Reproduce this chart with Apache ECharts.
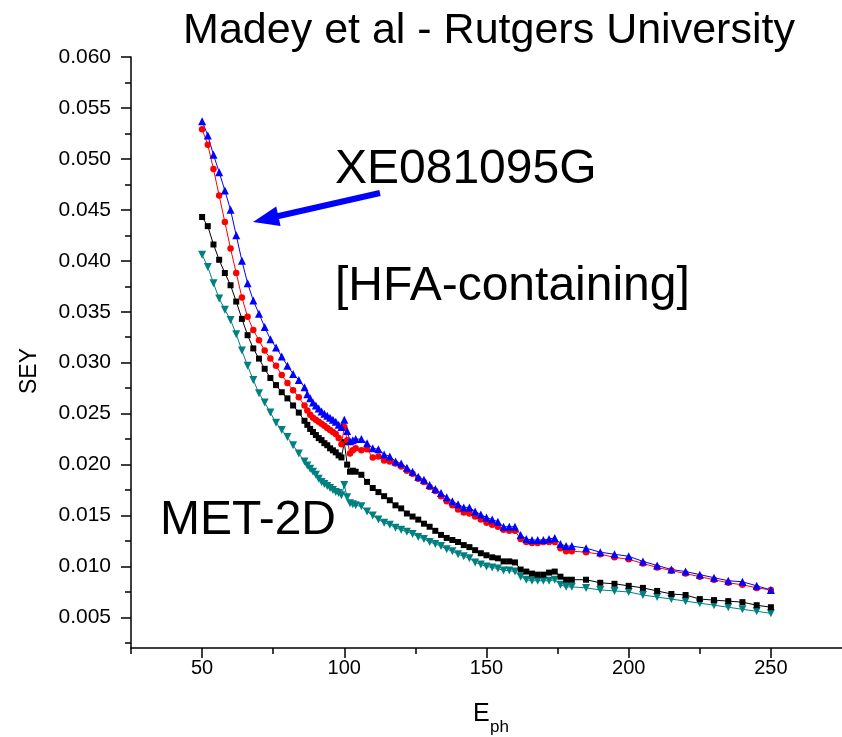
<!DOCTYPE html>
<html>
<head>
<meta charset="utf-8">
<script src="https://cdn.jsdelivr.net/npm/echarts@6/dist/echarts.min.js"></script>
<style>
html,body{margin:0;padding:0;background:#ffffff;}
#c{width:842px;height:737px;}
</style>
</head>
<body>
<div id="c"></div>
<script>
// Photon energy (eV)
const ePh = [
  50,52,54,56,58,60,62,64,66,68,70,72,74,76,78,80,82,84,86,
  87,88,89,90,91,92,93,94,95,96,97,98,99,100,101,102,103,104,
  106,108,110,112,114,116,118,120,122,124,
  126,128,130,132,134,136,138,140,142,144,
  146,148,150,152,154,156,158,160,162,164,
  166,168,170,172,174,176,178,180,
  185,190,195,200,205,210,215,220,225,230,235,240,245,250
];
// SEY values, blue triangles (XE081095G)
const seyBlue = [
  0.0537,0.0523,0.0504,0.0487,0.0469,0.0450,0.0425,0.0400,0.0378,0.0361,0.0348,0.0335,0.0323,0.0315,0.0306,0.0297,0.0289,0.0283,0.0276,
  0.0269,0.0265,0.0261,0.0258,0.0255,0.0252,0.0250,0.0248,0.0246,0.0244,0.0242,0.0239,0.0237,0.0244,0.0233,0.0223,0.0224,0.0225,
  0.0225,0.0221,0.0216,0.0215,0.0210,0.0208,0.0203,0.0201,0.0197,0.0193,
  0.0188,0.0185,0.0180,0.0176,0.0172,0.0168,0.0164,0.0161,0.0158,0.0158,
  0.0154,0.0151,0.0148,0.0146,0.0144,0.0139,0.0139,0.0139,0.0131,0.0127,
  0.0126,0.0126,0.0126,0.0127,0.0128,0.0122,0.0120,0.0120,
  0.0118,0.0114,0.0112,0.0110,0.0105,0.0101,0.0097,0.0095,0.0092,0.0089,0.0086,0.0085,0.0081,0.0077
];
// SEY values, red circles
const seyRed = [
  0.0529,0.0514,0.0490,0.0464,0.0438,0.0412,0.0388,0.0364,0.0345,0.0332,0.0322,0.0312,0.0304,0.0297,0.0288,0.0280,0.0273,0.0266,0.0258,
  0.0253,0.0249,0.0246,0.0244,0.0242,0.0240,0.0238,0.0236,0.0234,0.0232,0.0230,0.0226,0.0220,0.0237,0.0224,0.0211,0.0214,0.0216,
  0.0214,0.0215,0.0207,0.0208,0.0204,0.0203,0.0201,0.0198,0.0194,0.0191,
  0.0186,0.0183,0.0178,0.0174,0.0169,0.0164,0.0160,0.0156,0.0153,0.0152,
  0.0149,0.0146,0.0143,0.0141,0.0139,0.0136,0.0135,0.0135,0.0127,0.0124,
  0.0123,0.0123,0.0124,0.0124,0.0124,0.0118,0.0115,0.0115,
  0.0114,0.0112,0.0109,0.0107,0.0103,0.0099,0.0096,0.0093,0.0090,0.0087,0.0084,0.0082,0.0079,0.0077
];
// SEY values, black squares
const seyBlack = [
  0.0443,0.0434,0.0416,0.0401,0.0388,0.0376,0.0360,0.0343,0.0327,0.0314,0.0304,0.0294,0.0285,0.0278,0.0271,0.0265,0.0258,0.0251,0.0243,
  0.0239,0.0235,0.0232,0.0229,0.0226,0.0224,0.0221,0.0219,0.0216,0.0214,0.0212,0.0209,0.0207,0.0222,0.0200,0.0193,0.0194,0.0193,
  0.0190,0.0183,0.0177,0.0173,0.0169,0.0165,0.0160,0.0157,0.0152,0.0149,
  0.0146,0.0142,0.0139,0.0135,0.0131,0.0128,0.0126,0.0124,0.0121,0.0119,
  0.0116,0.0113,0.0111,0.0109,0.0108,0.0105,0.0105,0.0104,0.0097,0.0095,
  0.0093,0.0092,0.0092,0.0094,0.0095,0.0090,0.0087,0.0087,
  0.0087,0.0084,0.0083,0.0081,0.0079,0.0076,0.0073,0.0072,0.0068,0.0067,0.0066,0.0065,0.0062,0.0060
];
// SEY values, dark cyan down-triangles (MET-2D)
const seyTeal = [
  0.0406,0.0394,0.0378,0.0363,0.0352,0.0342,0.0328,0.0312,0.0297,0.0283,0.0270,0.0261,0.0251,0.0241,0.0234,0.0227,0.0219,0.0211,0.0203,
  0.0199,0.0196,0.0193,0.0190,0.0186,0.0183,0.0181,0.0179,0.0177,0.0175,0.0173,0.0172,0.0170,0.0180,0.0168,0.0162,0.0161,0.0160,
  0.0159,0.0154,0.0150,0.0146,0.0143,0.0141,0.0138,0.0136,0.0134,0.0132,
  0.0129,0.0127,0.0124,0.0122,0.0120,0.0117,0.0115,0.0112,0.0110,0.0108,
  0.0104,0.0102,0.0100,0.0099,0.0098,0.0096,0.0096,0.0095,0.0090,0.0087,
  0.0086,0.0086,0.0086,0.0086,0.0087,0.0082,0.0080,0.0080,
  0.0079,0.0077,0.0076,0.0075,0.0072,0.0070,0.0068,0.0066,0.0064,0.0062,0.0060,0.0058,0.0056,0.0054
];
// Tick values
const xMajorTicks = [50,100,150,200,250];
const xMinorTicks = [25,75,125,175,225];
const yMajorTicks = [5,10,15,20,25,30,35,40,45,50,55,60].map(k => k/1000);
const yMinorTicks = [25,75,125,175,225,275,325,375,425,475,525,575].map(k => k/10000);

const FONT = '"Liberation Sans", Arial, sans-serif';
function pairs(vals){ return ePh.map((e,i) => [e, vals[i]]); }

const chart = echarts.init(document.getElementById('c'), null, {renderer:'canvas'});

function mkSeries(name, vals, color, symbol, size, rot){
  return {
    name: name, type: 'line', data: pairs(vals),
    symbol: symbol, symbolSize: size, symbolRotate: rot || 0,
    showSymbol: true, showAllSymbol: true,
    lineStyle: {color: color, width: 1},
    itemStyle: {color: color, borderWidth: 0},
    emphasis: {disabled: true},
    z: 3
  };
}

const axisCol = '#000';
const option = {
  animation: false,
  backgroundColor: '#ffffff',
  grid: {left: 131, right: -6, top: 57, bottom: 89},
  xAxis: [
    {
      type: 'value', min: 25, max: 275, position: 'bottom',
      axisLine: {show: true, onZero: false, lineStyle: {color: axisCol, width: 1.5}},
      axisTick: {show: true, customValues: xMajorTicks, length: 10, lineStyle: {color: axisCol, width: 1.5}},
      axisLabel: {show: true, customValues: xMajorTicks, margin: 10, fontSize: 20, color: '#000', fontFamily: FONT},
      splitLine: {show: false}
    },
    {
      type: 'value', min: 25, max: 275, position: 'bottom',
      axisLine: {show: false, onZero: false},
      axisTick: {show: true, customValues: xMinorTicks, length: 6, lineStyle: {color: axisCol, width: 1.5}},
      axisLabel: {show: false},
      splitLine: {show: false}
    }
  ],
  yAxis: [
    {
      type: 'value', min: 0.002, max: 0.060, position: 'left',
      axisLine: {show: true, onZero: false, lineStyle: {color: axisCol, width: 1.5}},
      axisTick: {show: true, customValues: yMajorTicks, length: 10, lineStyle: {color: axisCol, width: 1.5}},
      axisLabel: {show: true, customValues: yMajorTicks, margin: 20, fontSize: 21, color: '#000', fontFamily: FONT,
                  formatter: v => v.toFixed(3)},
      splitLine: {show: false}
    },
    {
      type: 'value', min: 0.002, max: 0.060, position: 'left',
      axisLine: {show: false, onZero: false},
      axisTick: {show: true, customValues: yMinorTicks, length: 6, lineStyle: {color: axisCol, width: 1.5}},
      axisLabel: {show: false},
      splitLine: {show: false}
    }
  ],
  series: [
    mkSeries('MET-2D', seyTeal, '#008080', 'triangle', 8, 180),
    mkSeries('black', seyBlack, '#000000', 'rect', 6),
    mkSeries('red', seyRed, '#ff0000', 'circle', 6.5),
    mkSeries('XE081095G', seyBlue, '#0000ff', 'triangle', 8)
  ],
  graphic: [
    {type:'text', z: 10, style:{text:'Madey et al - Rutgers University', x:489, y:31, textAlign:'center', textVerticalAlign:'middle', font:'43px ' + FONT, fill:'#000'}},
    {type:'text', z: 10, style:{text:'XE081095G', x:335, y:170, textAlign:'left', textVerticalAlign:'middle', font:'48px ' + FONT, fill:'#000'}},
    {type:'text', z: 10, style:{text:'[HFA-containing]', x:335, y:287, textAlign:'left', textVerticalAlign:'middle', font:'48px ' + FONT, fill:'#000'}},
    {type:'text', z: 10, style:{text:'MET-2D', x:160, y:521, textAlign:'left', textVerticalAlign:'middle', font:'48px ' + FONT, fill:'#000'}},
    {type:'line', z: 10, shape:{x1:380, y1:193, x2:272, y2:217.5}, style:{stroke:'#0000ff', lineWidth:6}},
    {type:'polygon', z: 10, shape:{points:[[253,222],[280.6,226.0],[276.2,206.4]]}, style:{fill:'#0000ff'}},
    {type:'text', z: 10, rotation: Math.PI/2, x:30, y:371, style:{text:'SEY', x:0, y:0, textAlign:'center', textVerticalAlign:'middle', font:'23px ' + FONT, fill:'#000'}},
    {type:'text', z: 10, style:{text:'E', x:473, y:714, textAlign:'left', textVerticalAlign:'middle', font:'25px ' + FONT, fill:'#000'}},
    {type:'text', z: 10, style:{text:'ph', x:490, y:727, textAlign:'left', textVerticalAlign:'middle', font:'17px ' + FONT, fill:'#000'}}
  ]
};
chart.setOption(option);
</script>
</body>
</html>
